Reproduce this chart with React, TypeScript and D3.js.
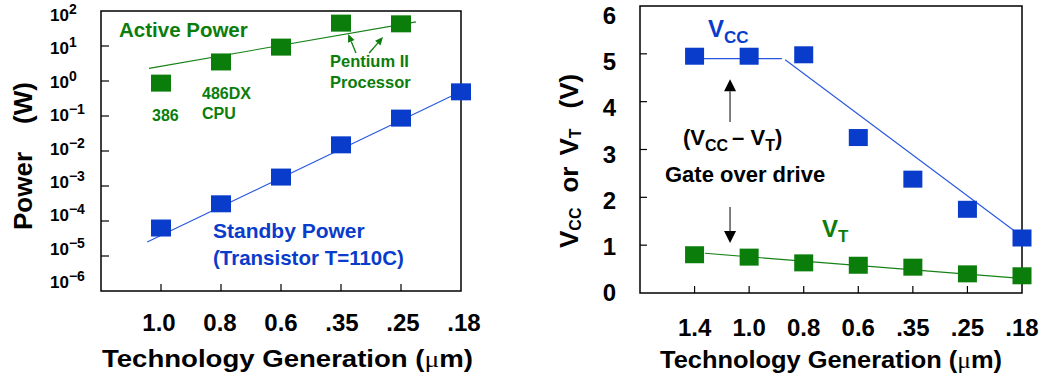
import React from "react";
import * as d3 from "d3";

// ---- left panel: power vs technology generation
const leftGens = ["1.0", "0.8", "0.6", ".35", ".25", ".18"];
const activePower = [0.87, 3.5, 9.3, 45, 43]; // W, 386 .. Pentium II
const standbyPower = [6.3e-5, 3.1e-4, 1.8e-3, 1.5e-2, 0.087, 0.49];
// fitted trend lines [generation index, value]
const activeFit: [number, number][] = [[-0.2, 2.3], [4.25, 49]];
const standbyFit: [number, number][] = [[-0.23, 2.5e-5], [5, 0.5]];
const powerExps = [2, 1, 0, -1, -2, -3, -4, -5, -6];
// "Pentium II" pointer arrows [tail, tip] in [index, W]
const pentiumArrows: [number, number][][] = [
  [[3.25, 6.3], [3.12, 22]],
  [[3.47, 6.3], [3.7, 18]],
];

// ---- right panel: supply and threshold voltage
const rightGens = ["1.4", "1.0", "0.8", "0.6", ".35", ".25", ".18"];
const vcc = [4.95, 4.95, 4.98, 3.25, 2.38, 1.75, 1.15];
const vt = [0.8, 0.75, 0.63, 0.58, 0.54, 0.4, 0.36];
const vccFlatFit: [number, number][] = [[0, 4.9], [1.6, 4.9]];
const vccSlopeFit: [number, number][] = [[1.66, 4.875], [5.87, 1.29]];
const vtFit: [number, number][] = [[0.19, 0.83], [5.92, 0.31]];
const voltTicks = [0, 1, 2, 3, 4, 5, 6];
// gate overdrive arrows [tail, tip] in [index, V]
const overdriveArrows: [number, number][][] = [
  [[0.65, 3.575], [0.65, 4.47]],
  [[0.65, 1.8], [0.65, 1.045]],
];

const FONT = "'Liberation Sans', Arial, Helvetica, sans-serif";
const GREEN = "#0b7d0b";
const BLUE = "#0a3ccb";
const GREEN_LINE = "#168216";
const BLUE_LINE = "#2757e0";

function arrowHead(x1: number, y1: number, x2: number, y2: number, len: number, half: number) {
  const dx = x2 - x1, dy = y2 - y1;
  const d = Math.hypot(dx, dy);
  const ux = dx / d, uy = dy / d;
  const bx = x2 - ux * len, by = y2 - uy * len;
  return {
    bx, by,
    pts: `${x2},${y2} ${bx - uy * half},${by + ux * half} ${bx + uy * half},${by - ux * half}`,
  };
}

function PowerPanel() {
  const x = d3.scaleLinear().domain([-1, 5]).range([101, 461]);
  const y = d3.scaleLog().domain([1e-6, 1e2]).range([291, 11]);
  const yLab = d3.scaleLog().domain([1e-6, 1e2]).range([282, 15]);
  const xLab = d3.scaleLinear().domain([0, 5]).range([159, 464]);
  const line = d3.line<[number, number]>().x(d => x(d[0])).y(d => y(d[1]));
  const w = 20, h = 17;
  return (
    <g fontFamily={FONT} fontWeight="bold">
      {/* frame */}
      <rect x={x(-1)} y={y(1e2)} width={x(5) - x(-1)} height={y(1e-6) - y(1e2)}
        fill="none" stroke="#000" strokeWidth={1.5} />
      {/* y ticks + labels */}
      {powerExps.map(e => (
        <g key={e}>
          {e < 2 && e > -6 && (
            <line x1={x(-1)} x2={x(-1) + 8} y1={y(10 ** e)} y2={y(10 ** e)} stroke="#000" strokeWidth={1.2} />
          )}
          <text x={50} y={yLab(10 ** e) + 6} fontSize={17}>
            10<tspan fontSize={14} dy={-7}>{e < 0 ? "\u2212" + Math.abs(e) : e}</tspan>
          </text>
        </g>
      ))}
      {/* x ticks + labels */}
      {leftGens.map((g, i) => (
        <g key={g}>
          {i < 5 && <line x1={x(i)} x2={x(i)} y1={y(1e-6)} y2={y(1e-6) - 7} stroke="#000" strokeWidth={1.2} />}
          <text x={xLab(i)} y={331} fontSize={24} textAnchor="middle">{g}</text>
        </g>
      ))}
      <text x={102} y={367} fontSize={24} textLength={371} lengthAdjust="spacingAndGlyphs">
        Technology Generation (<tspan fontFamily="'Liberation Serif', serif" fontWeight="normal">μ</tspan>m)
      </text>
      <text transform="translate(32,230) rotate(-90)" fontSize={26}>
        Power<tspan dx={28}>(W)</tspan>
      </text>
      {/* trend lines */}
      <path d={line(activeFit) ?? ""} fill="none" stroke={GREEN_LINE} strokeWidth={1.1} />
      <path d={line(standbyFit) ?? ""} fill="none" stroke={BLUE_LINE} strokeWidth={1.1} />
      {/* markers */}
      {activePower.map((v, i) => (
        <rect key={"a" + i} x={x(i) - w / 2} y={y(v) - h / 2} width={w} height={h} fill={GREEN} />
      ))}
      {standbyPower.map((v, i) => (
        <rect key={"s" + i} x={x(i) - w / 2} y={y(v) - h / 2} width={w} height={h} fill={BLUE} />
      ))}
      {/* annotations */}
      {pentiumArrows.map(([t, p], k) => {
        const x1 = x(t[0]), y1 = y(t[1]), x2 = x(p[0]), y2 = y(p[1]);
        const a = arrowHead(x1, y1, x2, y2, 8, 3.5);
        return (
          <g key={k}>
            <line x1={x1} y1={y1} x2={a.bx} y2={a.by} stroke={GREEN} strokeWidth={1.3} />
            <polygon points={a.pts} fill={GREEN} />
          </g>
        );
      })}
      <g fill={GREEN}>
        <text x={119} y={37} fontSize={20.5}>Active Power</text>
        <text x={152} y={121} fontSize={16}>386</text>
        <text x={202} y={99} fontSize={16}>486DX</text>
        <text x={202} y={119} fontSize={16}>CPU</text>
        <text x={330} y={67} fontSize={16.5}>Pentium II</text>
        <text x={330} y={88} fontSize={16.5}>Processor</text>
      </g>
      <g fill={BLUE}>
        <text x={213} y={238} fontSize={21}>Standby Power</text>
        <text x={213} y={265} fontSize={20.5}>(Transistor T=110C)</text>
      </g>
    </g>
  );
}

function VoltagePanel() {
  const x = d3.scaleLinear().domain([-1, 6]).range([640, 1022]);
  const y = d3.scaleLinear().domain([0, 6]).range([293, 6]);
  const yLab = d3.scaleLinear().domain([0, 6]).range([293, 16]);
  const line = d3.line<[number, number]>().x(d => x(d[0])).y(d => y(d[1]));
  const w = 19, h = 17;
  return (
    <g fontFamily={FONT} fontWeight="bold">
      <rect x={x(-1)} y={y(6)} width={x(6) - x(-1)} height={y(0) - y(6)}
        fill="none" stroke="#000" strokeWidth={1.5} />
      {voltTicks.map(v => (
        <g key={v}>
          {v > 0 && v < 6 && <line x1={x(-1)} x2={x(-1) + 7} y1={y(v)} y2={y(v)} stroke="#000" strokeWidth={1.2} />}
          <text x={616} y={yLab(v) + 8} fontSize={24} textAnchor="end">{v}</text>
        </g>
      ))}
      {rightGens.map((g, i) => (
        <g key={g}>
          {i < 6 && <line x1={x(i)} x2={x(i)} y1={y(0)} y2={y(0) - 7} stroke="#000" strokeWidth={1.2} />}
          <text x={x(i)} y={336} fontSize={24} textAnchor="middle">{g}</text>
        </g>
      ))}
      <text x={660} y={368} fontSize={24} textLength={342} lengthAdjust="spacingAndGlyphs">
        Technology Generation (<tspan fontFamily="'Liberation Serif', serif" fontWeight="normal">μ</tspan>m)
      </text>
      <text transform="translate(578,248) rotate(-90)" fontSize={26}>
        V<tspan fontSize={16} dy={3}>CC</tspan>
        <tspan dx={15} dy={-3}>or</tspan>
        <tspan dx={11}>V</tspan>
        <tspan fontSize={16} dy={3}>T</tspan>
        <tspan dx={20} dy={-3}>(V)</tspan>
      </text>
      <path d={line(vccFlatFit) ?? ""} fill="none" stroke={BLUE_LINE} strokeWidth={1.1} />
      <path d={line(vccSlopeFit) ?? ""} fill="none" stroke={BLUE_LINE} strokeWidth={1.1} />
      <path d={line(vtFit) ?? ""} fill="none" stroke={GREEN_LINE} strokeWidth={1.1} />
      {vcc.map((v, i) => (
        <rect key={"c" + i} x={x(i) - w / 2} y={y(v) - h / 2} width={w} height={h} fill={BLUE} />
      ))}
      {vt.map((v, i) => (
        <rect key={"t" + i} x={x(i) - w / 2} y={y(v) - h / 2} width={w} height={h} fill={GREEN} />
      ))}
      {overdriveArrows.map(([t, p], k) => {
        const x1 = x(t[0]), y1 = y(t[1]), x2 = x(p[0]), y2 = y(p[1]);
        const a = arrowHead(x1, y1, x2, y2, 12, 6);
        return (
          <g key={k}>
            <line x1={x1} y1={y1} x2={a.bx} y2={a.by} stroke="#555" strokeWidth={1.5} />
            <polygon points={a.pts} fill="#000" />
          </g>
        );
      })}
      <text x={708} y={37} fontSize={24} fill={BLUE}>
        V<tspan fontSize={17} dy={6}>CC</tspan>
      </text>
      <text x={683} y={145} fontSize={22}>
        (V<tspan fontSize={16} dy={6}>CC</tspan>
        <tspan dx={4} dy={-6}>– V</tspan>
        <tspan fontSize={16} dy={6}>T</tspan>
        <tspan dy={-6}>)</tspan>
      </text>
      <text x={665} y={182} fontSize={22}>Gate over drive</text>
      <text x={822} y={237} fontSize={24} fill={GREEN}>
        V<tspan fontSize={17} dy={5}>T</tspan>
      </text>
    </g>
  );
}

export default function App() {
  return (
    <svg width={1046} height={376} style={{ position: "absolute", left: 0, top: 0, background: "#fff" }}>
      <rect width={1046} height={376} fill="#fff" />
      <PowerPanel />
      <VoltagePanel />
    </svg>
  );
}
